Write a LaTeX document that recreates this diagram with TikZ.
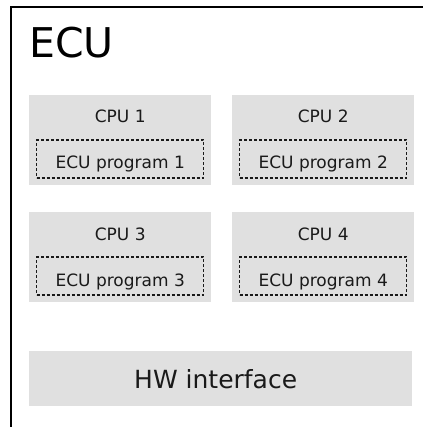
\documentclass[tikz,border=0pt]{standalone}
\usepackage{fontspec}
\setmainfont{DejaVu Sans}
\definecolor{cpufill}{RGB}{224,224,224}
\definecolor{inkdark}{RGB}{26,26,26}
\begin{document}
\begin{tikzpicture}[x=1pt,y=-1pt,
  frameline/.style={line width=1.5pt, draw=black},
  cpubox/.style={fill=cpufill, draw=none, minimum width=182pt, minimum height=90pt, inner sep=0pt, anchor=north west},
  hwbox/.style={fill=cpufill, draw=none, minimum width=383pt, minimum height=55pt, inner sep=0pt, anchor=north west},
  progbox/.style={draw=inkdark, line width=1.2pt, dash pattern=on 3pt off 2pt, minimum width=167pt, minimum height=38pt, inner sep=0pt, fill=none},
  cpulabel/.style={inner sep=0pt, anchor=base, text=inkdark, font=\fontsize{17}{20}\selectfont},
  proglabel/.style={inner sep=0pt, anchor=base, text=inkdark, font=\fontsize{17}{20}\selectfont},
  hwlabel/.style={inner sep=0pt, anchor=base, text=inkdark, font=\fontsize{25}{29}\selectfont},
  titlelabel/.style={inner sep=0pt, anchor=base west, text=black, font=\fontsize{41}{46}\selectfont}
]
\useasboundingbox (0,0) rectangle (422,427);

% outer ECU frame, running off the right and bottom edges
\coordinate (frameBL) at (11,430);
\coordinate (frameTL) at (11,7);
\coordinate (frameTR) at (425,7);
\draw[frameline] (frameBL) -- (frameTL) -- (frameTR);
\node[titlelabel] (title) at (29,58) {ECU};

% CPU blocks
\node[cpubox] (cpu1) at (29,95) {};
\node[cpubox] (cpu2) at (232,95) {};
\node[cpubox] (cpu3) at (29,212) {};
\node[cpubox] (cpu4) at (232,212) {};

\foreach \n in {1,2,3,4}{
  \node[cpulabel] (cpu\n label) at ([yshift=-28pt]cpu\n.north) {CPU \n};
  \node[progbox] (prog\n) at ([yshift=-64pt]cpu\n.north) {};
  \node[proglabel] (prog\n label) at ([yshift=-10pt]prog\n.center) {ECU program \n};
}

% hardware interface
\node[hwbox] (hw) at (29,351) {};
\node[hwlabel] (hwlabel) at ([xshift=-5pt,yshift=-10pt]hw.center) {HW interface};
\end{tikzpicture}
\end{document}
